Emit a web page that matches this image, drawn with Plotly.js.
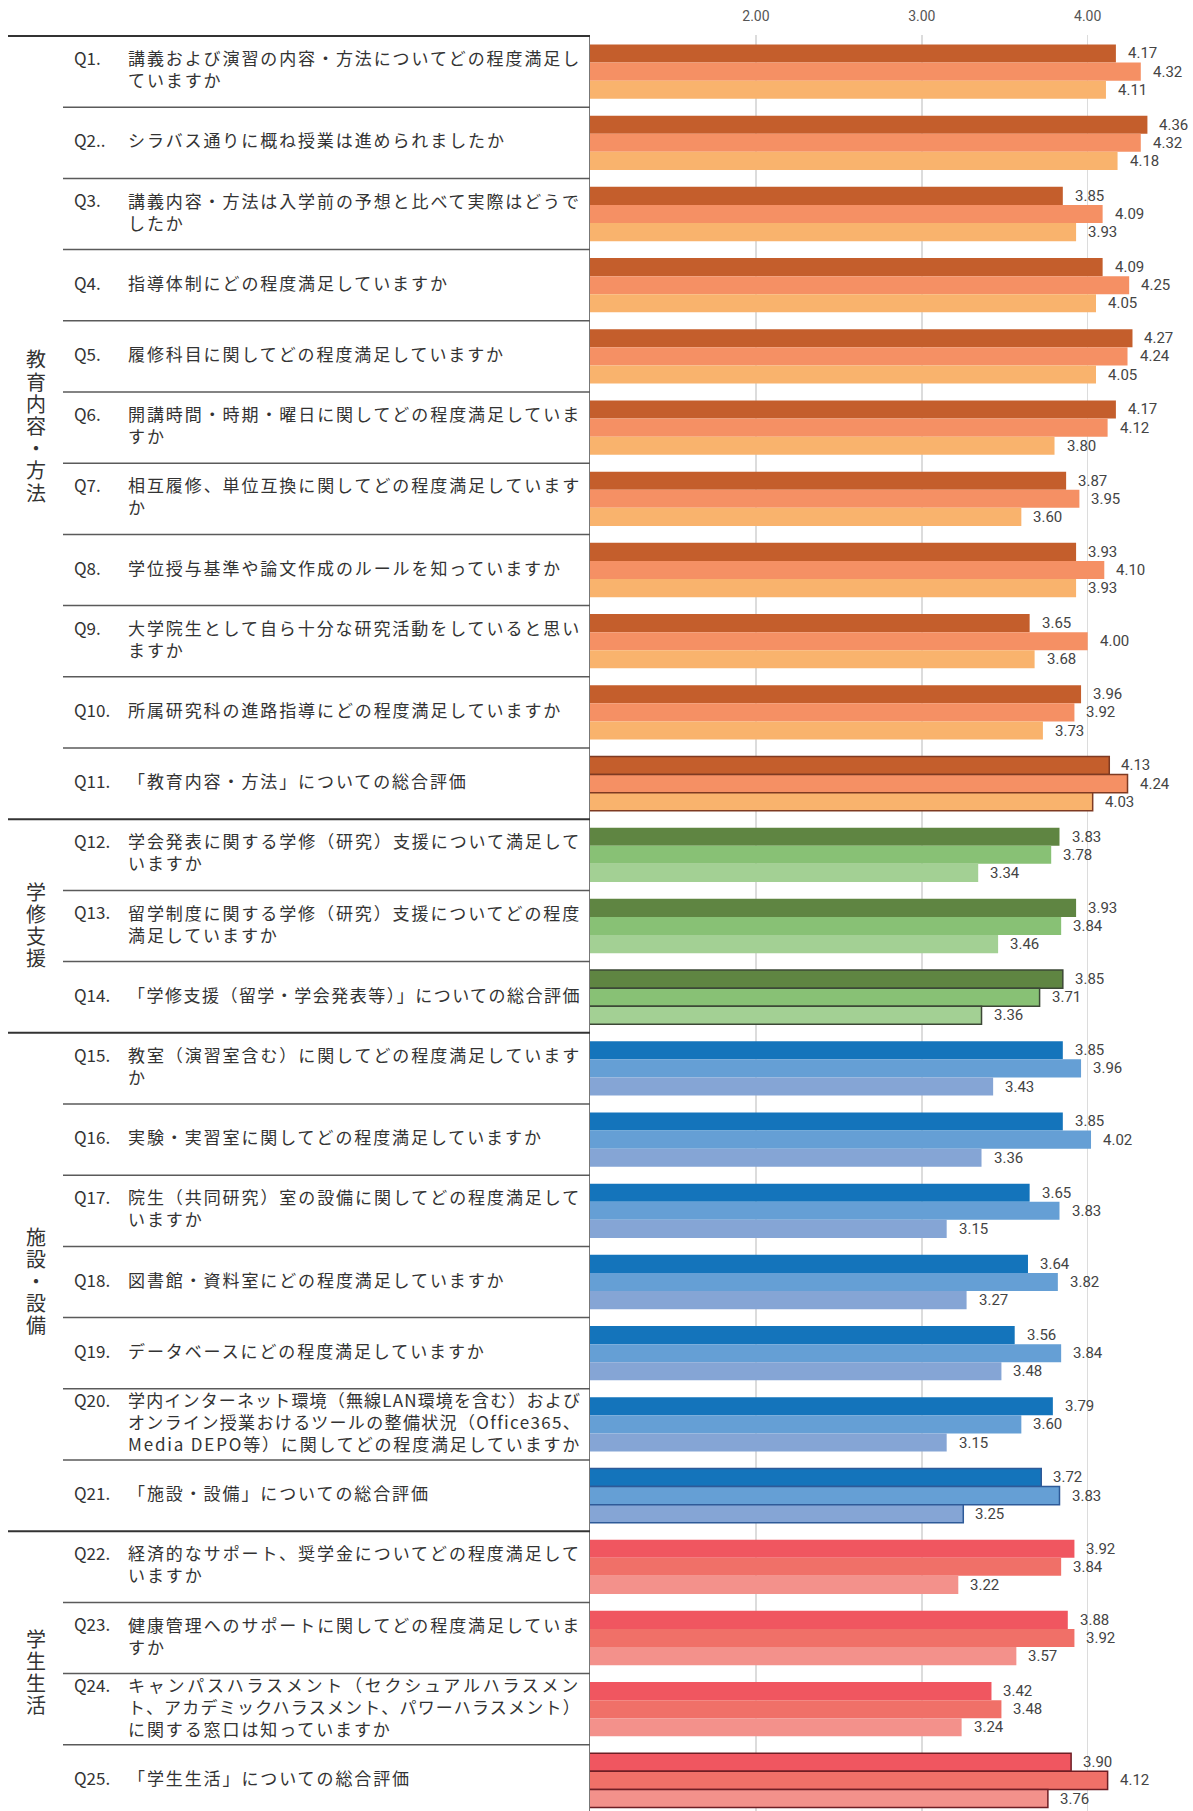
<!DOCTYPE html>
<html>
<head>
<meta charset="utf-8">
<script src="https://cdn.plot.ly/plotly-3.0.1.min.js"></script>
<style>
  html, body { margin: 0; padding: 0; overflow: hidden; background: #ffffff; }
</style>
</head>
<body>
<div id="chart"></div>
<script>
// ---------------- DATA ----------------
const categories = ['Q1','Q2','Q3','Q4','Q5','Q6','Q7','Q8','Q9','Q10','Q11','Q12','Q13',
  'Q14','Q15','Q16','Q17','Q18','Q19','Q20','Q21','Q22','Q23','Q24','Q25'];

const questionNumbers = ['Q1.','Q2..','Q3.','Q4.','Q5.','Q6.','Q7.','Q8.','Q9.','Q10.','Q11.','Q12.','Q13.',
  'Q14.','Q15.','Q16.','Q17.','Q18.','Q19.','Q20.','Q21.','Q22.','Q23.','Q24.','Q25.'];

const questionTexts = [
  '講義および演習の内容・方法についてどの程度満足し<br>ていますか',
  'シラバス通りに概ね授業は進められましたか',
  '講義内容・方法は入学前の予想と比べて実際はどうで<br>したか',
  '指導体制にどの程度満足していますか',
  '履修科目に関してどの程度満足していますか',
  '開講時間・時期・曜日に関してどの程度満足していま<br>すか',
  '相互履修、単位互換に関してどの程度満足しています<br>か',
  '学位授与基準や論文作成のルールを知っていますか',
  '大学院生として自ら十分な研究活動をしていると思い<br>ますか',
  '所属研究科の進路指導にどの程度満足していますか',
  '「教育内容・方法」についての総合評価',
  '学会発表に関する学修（研究）支援について満足して<br>いますか',
  '留学制度に関する学修（研究）支援についてどの程度<br>満足していますか',
  '「学修支援（留学・学会発表等）」についての総合評価',
  '教室（演習室含む）に関してどの程度満足しています<br>か',
  '実験・実習室に関してどの程度満足していますか',
  '院生（共同研究）室の設備に関してどの程度満足して<br>いますか',
  '図書館・資料室にどの程度満足していますか',
  'データベースにどの程度満足していますか',
  '学内インターネット環境（無線LAN環境を含む）および<br>オンライン授業おけるツールの整備状況（Office365、<br>Media DEPO等）に関してどの程度満足していますか',
  '「施設・設備」についての総合評価',
  '経済的なサポート、奨学金についてどの程度満足して<br>いますか',
  '健康管理へのサポートに関してどの程度満足していま<br>すか',
  'キャンパスハラスメント（セクシュアルハラスメン<br>ト、アカデミックハラスメント、パワーハラスメント）<br>に関する窓口は知っていますか',
  '「学生生活」についての総合評価'
];

const groupNames = ['教育内容・方法', '学修支援', '施設・設備', '学生生活'];
const groupFirst = ['Q1', 'Q12', 'Q15', 'Q22'];
const groupLast  = ['Q11', 'Q14', 'Q21', 'Q25'];
const summaryQuestions = ['Q11', 'Q14', 'Q21', 'Q25'];

const series1 = [4.17, 4.36, 3.85, 4.09, 4.27, 4.17, 3.87, 3.93, 3.65, 3.96, 4.13,
  3.83, 3.93, 3.85,
  3.85, 3.85, 3.65, 3.64, 3.56, 3.79, 3.72,
  3.92, 3.88, 3.42, 3.90];
const series2 = [4.32, 4.32, 4.09, 4.25, 4.24, 4.12, 3.95, 4.10, 4.00, 3.92, 4.24,
  3.78, 3.84, 3.71,
  3.96, 4.02, 3.83, 3.82, 3.84, 3.60, 3.83,
  3.84, 3.92, 3.48, 4.12];
const series3 = [4.11, 4.18, 3.93, 4.05, 4.05, 3.80, 3.60, 3.93, 3.68, 3.73, 4.03,
  3.34, 3.46, 3.36,
  3.43, 3.36, 3.15, 3.27, 3.48, 3.15, 3.25,
  3.22, 3.57, 3.24, 3.76];

const tickValues = [2, 3, 4];
const tickLabels = ['2.00', '3.00', '4.00'];

// ---------------- STYLE ----------------
const palettes = [
  ['#C45E2C', '#F59064', '#F9B36D'],
  ['#5F8542', '#88C175', '#A3D094'],
  ['#1474BB', '#659FD5', '#85A5D5'],
  ['#F05660', '#F07068', '#F3918B']
];
const outlineColors = ['#7E3A22', '#3C4836', '#2E5A98', '#6E1E24'];

const W = 1193, H = 1830, ML = 590, MT = 35, MB = 13;
const plotW = W - ML, plotH = H - MT - MB;
const xMin = 1, pxPerUnit = 165.9;
const xMax = xMin + plotW / pxPerUnit;
const barGap = 0.237;
const rowPx = plotH / categories.length;
const barPx = rowPx * (1 - barGap) / 3;
const paperX = px => (px - ML) / plotW;

const qFontSize = 17, qLinePx = 1.3 * qFontSize, qLift = 3;
const gFontSize = 20, gStepPx = 22.2;

const catIndex = c => categories.indexOf(c);
const groupOfRow = categories.map((c, i) => {
  let g = 0;
  groupFirst.forEach((f, k) => { if (i >= catIndex(f)) g = k; });
  return g;
});

const allSeries = [series1, series2, series3];
const seriesNames = ['系列1', '系列2', '系列3'];

const traces = allSeries.map((vals, k) => ({
  type: 'bar',
  orientation: 'h',
  name: seriesNames[k],
  y: categories,
  x: vals,
  marker: {
    color: categories.map((c, i) => palettes[groupOfRow[i]][k]),
    line: {
      color: categories.map((c, i) => outlineColors[groupOfRow[i]]),
      width: categories.map(c => summaryQuestions.includes(c) ? 1.5 : 0)
    }
  },
  hoverinfo: 'x+y',
  showlegend: false
}));

const annotations = [];
const labelFont = { family: '"Noto Sans CJK JP", sans-serif', size: qFontSize, color: '#333333' };

// question texts (indices 0..24)
categories.forEach((c, i) => {
  annotations.push({
    xref: 'paper', yref: 'y', x: paperX(127), y: c,
    xanchor: 'left', yanchor: 'middle', align: 'left', yshift: qLift,
    text: questionTexts[i], showarrow: false, font: labelFont, borderpad: 0
  });
});
// question numbers (indices 25..49), aligned with first text line
categories.forEach((c, i) => {
  const nLines = questionTexts[i].split('<br>').length;
  annotations.push({
    xref: 'paper', yref: 'y', x: paperX(73), y: c,
    xanchor: 'left', yanchor: 'middle', align: 'left',
    yshift: qLift + (nLines - 1) / 2 * qLinePx,
    text: questionNumbers[i], showarrow: false, font: labelFont, borderpad: 0
  });
});
// group labels (indices 50..53), turned into vertical text after drawing
const groupAnnStart = annotations.length;
groupNames.forEach((name, g) => {
  const centre = (catIndex(groupFirst[g]) + catIndex(groupLast[g])) / 2;
  annotations.push({
    xref: 'paper', yref: 'y', x: paperX(35.5), y: centre,
    xanchor: 'center', yanchor: 'middle', align: 'center',
    text: name, showarrow: false,
    font: { family: '"Noto Sans CJK JP", sans-serif', size: gFontSize, color: '#333333' }
  });
});
const groupAnnEnd = annotations.length;

// value labels
allSeries.forEach((vals, k) => {
  vals.forEach((v, i) => {
    annotations.push({
      xref: 'x', yref: 'y', x: v, y: categories[i],
      xanchor: 'left', yanchor: 'middle',
      xshift: 10, yshift: (1 - k) * barPx,
      text: v.toFixed(2), showarrow: false,
      font: { family: 'Roboto, sans-serif', size: 15, color: '#444444' }
    });
  });
});

// row separator lines
const groupStartIdx = groupFirst.map(catIndex).concat([categories.length]);
const shapes = [];
for (let b = 0; b <= categories.length; b++) {
  const isGroup = groupStartIdx.includes(b);
  shapes.push({
    type: 'line', xref: 'paper', yref: 'y',
    x0: paperX(isGroup ? 8 : 63), x1: 0,
    y0: b - 0.5, y1: b - 0.5,
    line: { color: isGroup ? '#333333' : '#5a5a5a', width: isGroup ? 2 : 1.5 },
    layer: 'above'
  });
}

const layout = {
  width: W, height: H,
  margin: { l: ML, r: 0, t: MT, b: MB, pad: 0 },
  paper_bgcolor: '#ffffff', plot_bgcolor: '#ffffff',
  barmode: 'group', bargap: barGap, bargroupgap: 0,
  xaxis: {
    range: [xMin, xMax], side: 'top',
    tickvals: tickValues, ticktext: tickLabels,
    showgrid: true, gridcolor: '#dcdcdc', gridwidth: 1.5,
    zeroline: false, showline: false, ticks: '',
    ticklabelstandoff: 10,
    tickfont: { family: 'Roboto, sans-serif', size: 14, color: '#555555' },
    fixedrange: true
  },
  yaxis: {
    type: 'category', autorange: 'reversed',
    showticklabels: false, ticks: '', showgrid: false, zeroline: false,
    showline: true, linecolor: '#777777', linewidth: 1.5,
    fixedrange: true
  },
  annotations: annotations,
  shapes: shapes,
  showlegend: false
};

Plotly.newPlot('chart', traces, layout, { displayModeBar: false, staticPlot: true }).then(gd => {
  const maxW = 453;
  gd.querySelectorAll('g.annotation').forEach(g => {
    const idx = +g.getAttribute('data-index');
    const textEl = g.querySelector('text.annotation-text');
    if (!textEl) return;
    if (idx < categories.length) {
      // letter spacing; wrapped lines are justified to the label column width
      let lines = Array.from(textEl.querySelectorAll('tspan.line'));
      if (lines.length === 0) lines = [textEl];
      lines.forEach((ln, li) => {
        ln.style.letterSpacing = '0px';
        const L0 = ln.getComputedTextLength();
        const n = Array.from(ln.textContent).length;
        const fill = (maxW - L0) / n;
        const s = (li < lines.length - 1) ? fill : Math.min(1.9, fill);
        ln.style.letterSpacing = s.toFixed(2) + 'px';
      });
    } else if (idx >= groupAnnStart && idx < groupAnnEnd) {
      // vertical (tategaki) group label centred on the annotation box
      const bg = g.querySelector('rect.bg');
      const bx = +bg.getAttribute('x') || 0, by = +bg.getAttribute('y') || 0;
      const bw = +bg.getAttribute('width'), bh = +bg.getAttribute('height');
      const cx = bx + bw / 2, cy = by + bh / 2;
      textEl.style.writingMode = 'vertical-rl';
      textEl.style.textAnchor = 'middle';
      textEl.style.letterSpacing = (gStepPx - gFontSize).toFixed(2) + 'px';
      textEl.setAttribute('text-anchor', 'middle');
      textEl.setAttribute('x', cx);
      textEl.setAttribute('y', cy);
    }
  });
});
</script>
</body>
</html>
